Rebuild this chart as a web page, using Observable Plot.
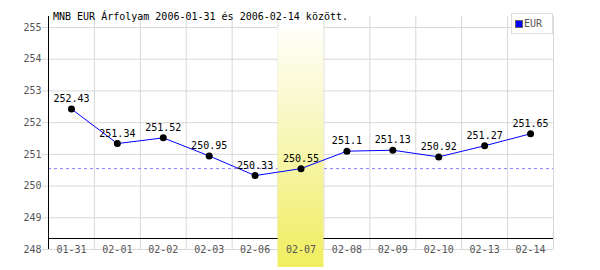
<!DOCTYPE html>
<html>
<head>
<meta charset="utf-8">
<script src="https://cdn.jsdelivr.net/npm/d3@7"></script>
<script src="https://cdn.jsdelivr.net/npm/@observablehq/plot@0.6"></script>
<style>
  body { margin: 0; background: #fff; }
  #wrap { position: relative; width: 600px; height: 270px; font-family: "DejaVu Sans Mono", monospace; }
  #title { position: absolute; left: 53px; top: 11px; font-size: 10px; color: #000; white-space: nowrap; }
  #legend { position: absolute; left: 511px; top: 13px; border: 1px solid #ddd; background: #fff; box-sizing: border-box; width: 42px; height: 21px; }
  #legend .sw { position: absolute; left: 3px; top: 6px; width: 6px; height: 6px; background: #0000ff; border: 1px solid #666; }
  #legend .lb { position: absolute; left: 12px; top: 4px; font-size: 10px; color: #555; }
</style>
</head>
<body>
<div id="wrap">
  <div id="chart"></div>
  <div id="title">MNB EUR Árfolyam 2006-01-31 és 2006-02-14 között.</div>
  <div id="legend"><div class="sw"></div><div class="lb">EUR</div></div>
</div>
<script>
const dates = ["01-31","02-01","02-02","02-03","02-06","02-07","02-08","02-09","02-10","02-13","02-14"];
const values = [252.43, 251.34, 251.52, 250.95, 250.33, 250.55, 251.1, 251.13, 250.92, 251.27, 251.65];
const labels = ["252.43","251.34","251.52","250.95","250.33","250.55","251.1","251.13","250.92","251.27","251.65"];
const yTicks = [248, 249, 250, 251, 252, 253, 254, 255];
const highlightIndex = 5;
const refValue = 250.55;

const data = dates.map((d, i) => ({i, d, v: values[i], label: labels[i]}));
const bounds = d3.range(dates.length + 1).map(i => i - 0.5);
const xMin = -0.5, xMax = dates.length - 0.5;

const font = "DejaVu Sans Mono";
const svg = Plot.plot({
  width: 600,
  height: 270,
  marginLeft: 48,
  marginRight: 47,
  marginTop: 27,
  marginBottom: 21,
  style: {fontFamily: font, fontSize: "10px", background: "#fff"},
  x: {type: "linear", domain: [xMin, xMax], axis: null},
  y: {type: "linear", domain: [248, 255], axis: null},
  marks: [
    Plot.ruleY(yTicks, {x1: xMin, x2: xMax, stroke: "#d8d8d8", insetLeft: -6}),
    Plot.ruleX(bounds, {y1: 248, y2: 255, stroke: "#d8d8d8", insetBottom: 11}),
    Plot.ruleY([refValue], {x1: xMin, x2: xMax, stroke: "#8080ff", strokeDasharray: "3,3"}),
    Plot.ruleX([xMin], {y1: 248, y2: 255, stroke: "#000", insetBottom: 11}),
    Plot.ruleY([248], {x1: xMin, x2: xMax, stroke: "#000", dy: -11}),
    Plot.rect([highlightIndex], {x1: d => d - 0.5, x2: d => d + 0.5, y1: 248, y2: 255, insetBottom: -18, fill: "url(#bandGrad)"}),
    Plot.line(data, {x: "i", y: "v", stroke: "#0000ff", strokeWidth: 1}),
    Plot.dot(data, {x: "i", y: "v", r: 3.5, fill: "#000", stroke: "none"}),
    Plot.text(data, {x: "i", y: "v", text: "label", dy: -10, fill: "#000", fontSize: 10}),
    Plot.text(yTicks, {x: xMin, y: d => d, text: d => String(d), dx: -7, textAnchor: "end", fill: "#555", fontSize: 10}),
    Plot.text(data, {x: "i", y: 248, text: "d", fill: "#555", fontSize: 10})
  ]
});

const defs = d3.select(svg).insert("defs", ":first-child");
const g = defs.append("linearGradient").attr("id", "bandGrad").attr("x1", 0).attr("y1", 0).attr("x2", 0).attr("y2", 1);
g.append("stop").attr("offset", "0%").attr("stop-color", "#fffffa");
g.append("stop").attr("offset", "35%").attr("stop-color", "#f9f8c8");
g.append("stop").attr("offset", "100%").attr("stop-color", "#f0ee5e");

document.getElementById("chart").appendChild(svg);
</script>
</body>
</html>
